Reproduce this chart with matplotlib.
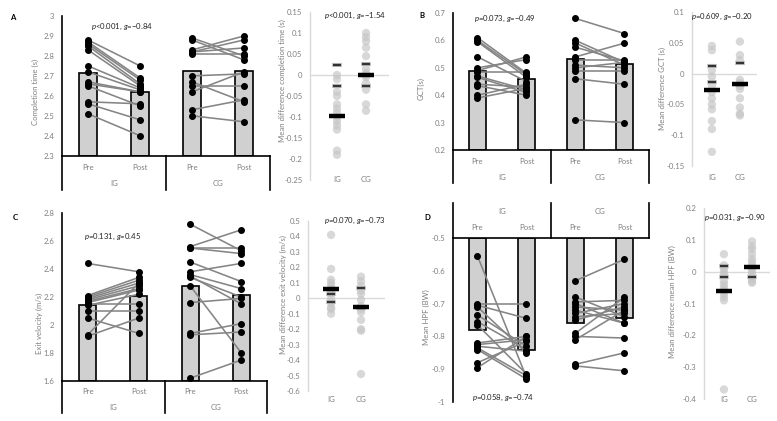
import matplotlib
matplotlib.use('Agg')
import matplotlib.pyplot as plt
import numpy as np
from matplotlib.lines import Line2D
from matplotlib.transforms import blended_transform_factory

plt.rcParams['font.family'] = ['Lato', 'DejaVu Sans']
plt.rcParams['mathtext.fontset'] = 'custom'
plt.rcParams['mathtext.it'] = 'Lato:italic'
plt.rcParams['mathtext.rm'] = 'Lato'

# ---------------- data ----------------
phases = ['Pre', 'Post', 'Pre', 'Post']
groups = ['IG', 'CG']

# Panel A: completion time (s)
A_ig_pre = [2.88, 2.87, 2.86, 2.85, 2.83, 2.75, 2.72, 2.67, 2.66, 2.65, 2.57, 2.56, 2.51]
A_ig_post = [2.75, 2.69, 2.68, 2.66, 2.65, 2.64, 2.63, 2.62, 2.62, 2.55, 2.56, 2.48, 2.40]
A_cg_pre = [2.89, 2.88, 2.83, 2.82, 2.82, 2.81, 2.70, 2.67, 2.65, 2.62, 2.53, 2.50]
A_cg_post = [2.80, 2.78, 2.90, 2.88, 2.84, 2.81, 2.71, 2.57, 2.65, 2.72, 2.58, 2.47]
A_means = [2.715, 2.618, 2.725, 2.725]
A_diff_ig = [0.0, -0.01, -0.04, -0.05, -0.07, -0.08, -0.09, -0.10, -0.11, -0.12, -0.13, -0.18, -0.19]
A_diff_cg = [0.10, 0.09, 0.08, 0.065, 0.045, 0.015, 0.005, 0.0, -0.005, -0.02, -0.035, -0.07, -0.085]
A_diff_means = [-0.097, 0.0]
A_swc = [0.025, 0.027]

# Panel B: GCT (s)
B_ig_pre = [0.61, 0.60, 0.595, 0.54, 0.50, 0.49, 0.485, 0.47, 0.465, 0.44, 0.435, 0.40, 0.39]
B_ig_post = [0.48, 0.475, 0.465, 0.45, 0.53, 0.54, 0.485, 0.42, 0.41, 0.43, 0.40, 0.44, 0.425]
B_cg_pre = [0.68, 0.60, 0.59, 0.575, 0.54, 0.53, 0.51, 0.50, 0.49, 0.46, 0.31]
B_cg_post = [0.625, 0.52, 0.51, 0.525, 0.59, 0.53, 0.50, 0.52, 0.49, 0.44, 0.30]
B_means = [0.488, 0.458, 0.532, 0.513]
B_diff_ig = [0.045, 0.038, 0.005, -0.005, -0.02, -0.03, -0.04, -0.05, -0.058, -0.077, -0.09, -0.127]
B_diff_cg = [0.052, 0.03, 0.022, -0.01, -0.015, -0.02, -0.025, -0.04, -0.055, -0.065, -0.068]
B_diff_means = [-0.027, -0.017]
B_swc = [0.013, 0.018]

# Panel C: exit velocity (m/s)
C_ig_pre = [2.44, 2.21, 2.20, 2.19, 2.18, 2.17, 2.16, 2.15, 2.14, 2.10, 2.05, 1.93, 1.92]
C_ig_post = [2.38, 2.34, 2.32, 2.30, 2.28, 2.26, 2.25, 2.15, 2.22, 2.10, 1.94, 2.30, 2.05]
C_cg_pre = [2.72, 2.56, 2.55, 2.55, 2.45, 2.38, 2.36, 2.35, 2.34, 2.28, 2.16, 1.94, 1.93, 1.62]
C_cg_post = [2.53, 2.68, 2.55, 2.51, 2.31, 2.44, 2.26, 2.15, 2.20, 1.80, 2.19, 2.01, 1.95, 1.75]
C_means = [2.145, 2.205, 2.276, 2.217]
C_diff_ig = [0.41, 0.19, 0.12, 0.10, 0.08, 0.06, 0.05, 0.03, 0.0, -0.03, -0.06, -0.07, -0.10]
C_diff_cg = [0.14, 0.11, 0.08, 0.05, 0.03, -0.01, -0.05, -0.07, -0.09, -0.14, -0.20, -0.21, -0.49]
C_diff_means = [0.06, -0.055]
C_swc = [0.025, 0.065]

# Panel D: mean HPF (BW)
D_ig_pre = [-0.555, -0.70, -0.705, -0.71, -0.735, -0.755, -0.765, -0.82, -0.825, -0.83, -0.835, -0.84, -0.88, -0.895]
D_ig_post = [-0.925, -0.70, -0.745, -0.85, -0.83, -0.84, -0.915, -0.80, -0.81, -0.845, -0.92, -0.93, -0.815, -0.80]
D_cg_pre = [-0.63, -0.68, -0.695, -0.70, -0.71, -0.72, -0.73, -0.74, -0.75, -0.79, -0.80, -0.81, -0.885, -0.89]
D_cg_post = [-0.565, -0.74, -0.69, -0.76, -0.72, -0.76, -0.70, -0.73, -0.71, -0.68, -0.805, -0.72, -0.85, -0.905]
D_means = [-0.781, -0.842, -0.758, -0.743]
D_diff_ig = [0.055, 0.02, 0.01, 0.0, -0.01, -0.03, -0.04, -0.05, -0.06, -0.07, -0.08, -0.09, -0.37]
D_diff_cg = [0.095, 0.08, 0.07, 0.055, 0.04, 0.03, 0.02, 0.01, 0.0, -0.01, -0.02, -0.03, -0.035]
D_diff_means = [-0.062, 0.015]
D_swc = [0.018, 0.016]

# ---------------- layout helpers ----------------
W, H = 777, 421
fig = plt.figure(figsize=(W / 100, H / 100), dpi=100)
FS = 5.6
GRAY_TXT = '#7f7f7f'


def add_ax(l, t, r, b):
    return fig.add_axes([l / W, 1 - b / H, (r - l) / W, (b - t) / H])


def fy(py):
    return 1 - py / H


def fmt(v):
    v = round(v, 4)
    s = '{:g}'.format(v)
    return '0' if s in ('-0', '0') else s


def yticks_setup(ax, ticks):
    ax.set_yticks(ticks)
    ax.set_yticklabels([fmt(t) for t in ticks])
    ax.tick_params(axis='y', length=0, pad=5.5, labelsize=FS, labelcolor=GRAY_TXT)
    ax.set_xticks([])


def bar_panel(box, ylim, ticks, ig_pre, ig_post, cg_pre, cg_post, means,
              pre_y, grp_y, div_y, top=False):
    ax = add_ax(*box)
    ax.set_xlim(-0.5, 3.5)
    ax.set_ylim(*ylim)
    base = ylim[1] if top else ylim[0]
    x = np.arange(4)
    ax.bar(x, np.array(means) - base, bottom=base, width=0.33, color='#d0d0d0',
           edgecolor='black', linewidth=1.2, zorder=2)
    for xp, (pre, post) in zip([0, 2], [(ig_pre, ig_post), (cg_pre, cg_post)]):
        for a, b in zip(pre, post):
            ax.plot([xp, xp + 1], [a, b], color='#858585', lw=1.15, zorder=3,
                    solid_capstyle='round', clip_on=False)
        ax.plot([xp] * len(pre), pre, 'o', color='black', ms=4.0, zorder=4, clip_on=False)
        ax.plot([xp + 1] * len(post), post, 'o', color='black', ms=4.0, zorder=4, clip_on=False)
    for s in ax.spines.values():
        s.set_visible(False)
    ax.spines['left'].set_visible(True)
    ax.spines['left'].set_linewidth(1.2)
    edge = 'top' if top else 'bottom'
    ax.spines[edge].set_visible(True)
    ax.spines[edge].set_linewidth(1.2)
    yticks_setup(ax, ticks)
    tr = blended_transform_factory(ax.transData, fig.transFigure)
    for i, lab in enumerate(phases):
        fig.text(i, fy(pre_y), lab, transform=tr, ha='center', va='center',
                 fontsize=FS, color=GRAY_TXT)
    for i, lab in enumerate(groups):
        fig.text(0.5 + 2 * i, fy(grp_y), lab, transform=tr, ha='center', va='center',
                 fontsize=FS, color=GRAY_TXT)
    edge_y = ax.get_position().y1 if top else ax.get_position().y0
    for xd in [-0.5, 1.5, 3.5]:
        fig.add_artist(Line2D([xd, xd], [edge_y, fy(div_y)], transform=tr,
                              color='black', lw=1.2))
    return ax


def diff_panel(box, ylim, ticks, xlim, d_ig, d_cg, dmeans, swc, lab_y):
    ax = add_ax(*box)
    ax.set_xlim(*xlim)
    ax.set_ylim(*ylim)
    ax.axhline(0, color='#d9d9d9', lw=1.0, zorder=1)
    for xi, d in zip([1, 2], [d_ig, d_cg]):
        ax.scatter([xi] * len(d), d, s=36, color='#c4c4c4', alpha=0.65,
                   edgecolors='none', zorder=2, clip_on=False)
    for xi, m, sw in zip([1, 2], dmeans, swc):
        ax.plot([xi, xi], [sw, -sw], ls='none', marker='_', ms=7.0, mew=3.0,
                color='#c8c8c8', zorder=3)
        ax.plot([xi, xi], [sw, -sw], ls='none', marker='_', ms=6.0, mew=1.7,
                color='#333333', zorder=4)
        ax.plot([xi], [m], ls='none', marker='_', ms=12, mew=3.2, color='black', zorder=5)
    for s in ax.spines.values():
        s.set_visible(False)
    ax.spines['left'].set_visible(True)
    ax.spines['left'].set_color('#d9d9d9')
    ax.spines['left'].set_linewidth(1.0)
    yticks_setup(ax, ticks)
    tr = blended_transform_factory(ax.transData, fig.transFigure)
    for xi, lab in zip([1, 2], groups):
        fig.text(xi, fy(lab_y), lab, transform=tr, ha='center', va='center',
                 fontsize=FS, color=GRAY_TXT)
    return ax


def ptext(px, py, s):
    fig.text(px / W, fy(py), s, ha='center', va='center', fontsize=FS, color='#222222')


def letter(px, py, s):
    fig.text(px / W, fy(py), s, ha='center', va='center', fontsize=FS,
             color='black', fontweight='bold')


def ylab(px, py, s):
    fig.text(px / W, fy(py), s, ha='center', va='center', rotation=90,
             fontsize=FS, color=GRAY_TXT)


M = '\u2212'

# ---------------- Panel A ----------------
bar_panel((62, 16, 270, 155.7), (2.3, 3.0), np.arange(2.3, 3.001, 0.1),
          A_ig_pre, A_ig_post, A_cg_pre, A_cg_post, A_means, 167, 183, 190)
diff_panel((310, 12, 389, 180), (-0.25, 0.15), np.arange(-0.25, 0.1501, 0.05),
           (0.07, 2.79), A_diff_ig, A_diff_cg, A_diff_means, A_swc, 179)
ylab(35, 92, 'Completion time (s)')
ylab(282, 81, 'Mean difference completion time (s)')
ptext(122, 27, '$\\it{p}$<0.001, $\\it{g}$=' + M + '0.84')
ptext(355, 16, '$\\it{p}$<0.001, $\\it{g}$=' + M + '1.54')
letter(13, 18, 'A')

# ---------------- Panel B ----------------
bar_panel((453, 13, 649, 150), (0.2, 0.7), np.arange(0.2, 0.7001, 0.1),
          B_ig_pre, B_ig_post, B_cg_pre, B_cg_post, B_means, 161, 177, 183)
diff_panel((692, 12, 757, 166), (-0.15, 0.1), np.arange(-0.15, 0.1001, 0.05),
           (0.29, 2.61), B_diff_ig, B_diff_cg, B_diff_means, B_swc, 177)
ylab(421, 89, 'GCT(s)')
ylab(662, 88, 'Mean difference GCT (s)')
ptext(505, 19, '$\\it{p}$=0.073, $\\it{g}$=' + M + '0.49')
ptext(722, 17, '$\\it{p}$=0.609, $\\it{g}$=' + M + '0.20')
letter(422, 16, 'B')

# ---------------- Panel C ----------------
bar_panel((62, 213, 267, 381), (1.6, 2.8), np.arange(1.6, 2.8001, 0.2),
          C_ig_pre, C_ig_post, C_cg_pre, C_cg_post, C_means, 392, 407, 413)
diff_panel((308, 221, 385, 391), (-0.6, 0.5), np.arange(-0.6, 0.5001, 0.1),
           (0.23, 2.8), C_diff_ig, C_diff_cg, C_diff_means, C_swc, 399)
ylab(39, 323, 'Exit velocity (m/s)')
ylab(283, 295, 'Mean difference exit velocity (m/s)')
ptext(113, 237, '$\\it{p}$=0.131, $\\it{g}$=0.45')
ptext(355, 221, '$\\it{p}$=0.070, $\\it{g}$=' + M + '0.73')
letter(15, 217, 'C')

# ---------------- Panel D ----------------
bar_panel((453, 238, 649, 402), (-1.0, -0.5), np.arange(-1.0, -0.4999, 0.1),
          D_ig_pre, D_ig_post, D_cg_pre, D_cg_post, D_means, 227, 211, 203, top=True)
diff_panel((704, 208, 770, 399), (-0.4, 0.2), np.arange(-0.4, 0.2001, 0.1),
           (0.29, 2.64), D_diff_ig, D_diff_cg, D_diff_means, D_swc, 399)
ylab(426, 317, 'Mean HPF (BW)')
ylab(672, 302, 'Mean difference mean HPF (BW)')
ptext(503, 398, '$\\it{p}$=0.058, $\\it{g}$=' + M + '0.74')
ptext(735, 218, '$\\it{p}$=0.031, $\\it{g}$=' + M + '0.90')
letter(427, 217, 'D')

fig.savefig('out.png', dpi=100)
